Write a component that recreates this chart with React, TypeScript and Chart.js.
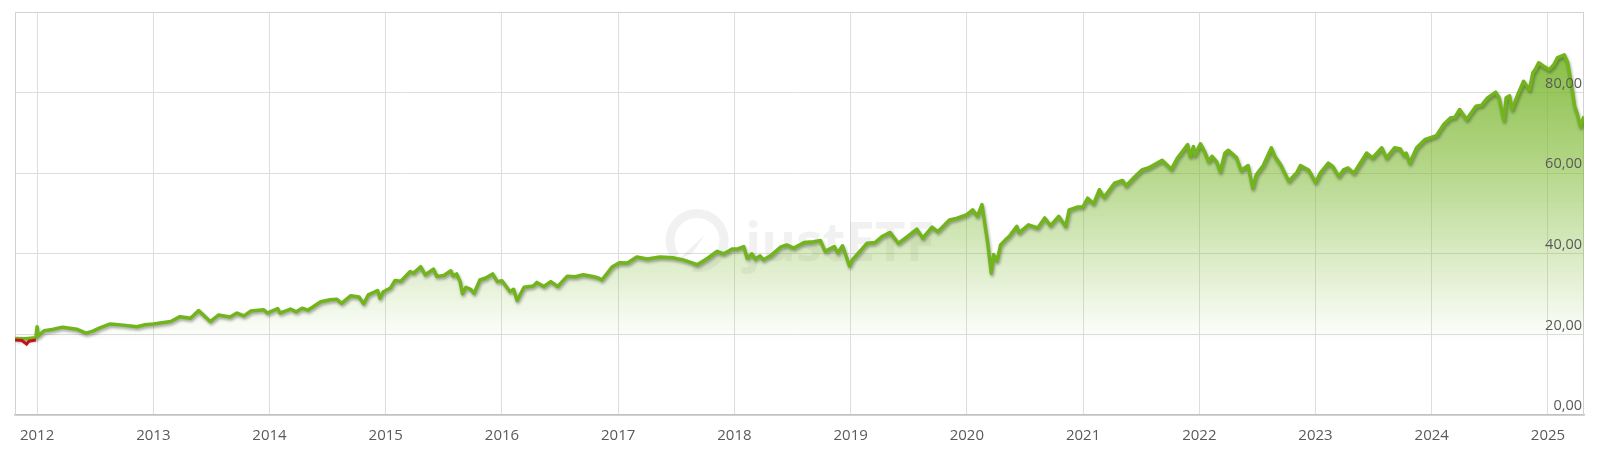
import React, { useEffect, useRef } from 'react';
import { Chart, registerables } from 'chart.js';

Chart.register(...registerables);

// Decimal years of the price points
const priceYears = [
  2011.81, 2011.90, 2011.99,
  2012.00, 2012.01, 2012.06, 2012.13, 2012.22, 2012.34, 2012.42, 2012.48, 2012.54, 2012.63, 2012.74, 2012.86, 2012.93,
  2013.00, 2013.15, 2013.23, 2013.32, 2013.39, 2013.49, 2013.56, 2013.66, 2013.72, 2013.78, 2013.84, 2013.95, 2013.98,
  2014.07, 2014.09, 2014.18, 2014.23, 2014.28, 2014.33, 2014.44, 2014.52, 2014.58, 2014.62, 2014.70, 2014.77, 2014.81, 2014.85, 2014.93, 2014.95, 2014.98,
  2015.04, 2015.08, 2015.13, 2015.21, 2015.24, 2015.30, 2015.34, 2015.41, 2015.44, 2015.50, 2015.56, 2015.58, 2015.61, 2015.64, 2015.66, 2015.69, 2015.73, 2015.76, 2015.81, 2015.86, 2015.92, 2015.96,
  2016.00, 2016.07, 2016.10, 2016.13, 2016.19, 2016.27, 2016.30, 2016.36, 2016.42, 2016.48, 2016.56, 2016.63, 2016.70, 2016.79, 2016.83, 2016.86, 2016.95,
  2017.01, 2017.08, 2017.16, 2017.25, 2017.36, 2017.47, 2017.56, 2017.68, 2017.77, 2017.85, 2017.91, 2017.98,
  2018.03, 2018.08, 2018.11, 2018.15, 2018.18, 2018.22, 2018.25, 2018.31, 2018.40, 2018.45, 2018.51, 2018.60, 2018.68, 2018.74, 2018.78, 2018.86, 2018.89, 2018.93, 2018.99,
  2019.02, 2019.14, 2019.21, 2019.27, 2019.34, 2019.41, 2019.49, 2019.57, 2019.62, 2019.70, 2019.75, 2019.85, 2019.91,
  2020.00, 2020.05, 2020.09, 2020.13, 2020.15, 2020.18, 2020.21, 2020.23, 2020.26, 2020.29, 2020.33, 2020.37, 2020.43, 2020.45, 2020.53, 2020.61, 2020.67, 2020.72, 2020.79, 2020.85, 2020.88, 2020.95,
  2021.00, 2021.04, 2021.09, 2021.14, 2021.18, 2021.27, 2021.34, 2021.37, 2021.44, 2021.51, 2021.56, 2021.60, 2021.68, 2021.76, 2021.81, 2021.90, 2021.92, 2021.95, 2021.96,
  2022.01, 2022.05, 2022.08, 2022.11, 2022.15, 2022.18, 2022.22, 2022.25, 2022.32, 2022.36, 2022.42, 2022.46, 2022.49, 2022.55, 2022.62, 2022.65, 2022.70, 2022.77, 2022.84, 2022.87, 2022.94,
  2023.00, 2023.04, 2023.11, 2023.15, 2023.20, 2023.24, 2023.28, 2023.33, 2023.44, 2023.49, 2023.57, 2023.61, 2023.68, 2023.73, 2023.76, 2023.78, 2023.81, 2023.87, 2023.94,
  2024.04, 2024.10, 2024.16, 2024.20, 2024.24, 2024.30, 2024.38, 2024.43, 2024.48, 2024.55, 2024.58, 2024.62, 2024.64, 2024.67, 2024.69, 2024.74, 2024.79, 2024.84, 2024.87, 2024.89, 2024.92, 2024.96,
  2025.01, 2025.05, 2025.08, 2025.14, 2025.17, 2025.20, 2025.23, 2025.25, 2025.28, 2025.31,
];

// Price values, same order as priceYears
const priceValues = [
  19.0, 18.9, 19.2,
  21.9, 19.6, 20.9, 21.2, 21.8, 21.3, 20.3, 20.8, 21.6, 22.6, 22.3, 21.9, 22.4,
  22.6, 23.2, 24.4, 24.0, 25.9, 23.2, 24.8, 24.3, 25.3, 24.6, 25.8, 26.1, 25.3,
  26.4, 25.3, 26.3, 25.6, 26.5, 26.0, 28.1, 28.6, 28.7, 27.7, 29.6, 29.3, 27.6, 29.8, 30.9, 29.0, 30.6,
  31.5, 33.4, 33.2, 35.6, 35.2, 36.8, 34.8, 36.2, 34.4, 34.6, 35.8, 34.5, 35.0, 33.1, 30.1, 31.7, 31.2, 30.2, 33.5, 34.0, 35.0, 33.1,
  33.3, 30.6, 31.2, 28.4, 31.7, 32.0, 32.9, 31.9, 33.1, 31.9, 34.4, 34.3, 34.8, 34.3, 34.0, 33.5, 36.8,
  37.8, 37.7, 39.2, 38.7, 39.2, 39.0, 38.5, 37.3, 38.9, 40.6, 40.0, 41.2,
  41.2, 41.8, 38.9, 40.0, 38.7, 39.5, 38.5, 39.5, 41.7, 42.2, 41.4, 42.8, 43.0, 43.3, 40.6, 41.8, 40.2, 42.0, 37.0,
  38.7, 42.6, 42.8, 44.3, 45.3, 42.6, 44.3, 46.1, 43.9, 46.6, 45.5, 48.4, 48.8,
  49.7, 50.9, 49.3, 52.2, 48.4, 42.6, 35.2, 39.8, 38.2, 42.2, 43.4, 44.5, 46.8, 45.2, 47.2, 46.4, 48.9, 47.0, 49.3, 46.8, 50.9, 51.6,
  51.7, 53.8, 52.4, 55.9, 54.0, 57.5, 58.2, 56.9, 59.0, 60.9, 61.3, 61.9, 63.2, 61.0, 63.7, 67.1, 64.2, 66.6, 64.4,
  67.3, 65.1, 62.9, 64.2, 62.8, 60.4, 65.0, 65.7, 63.9, 60.7, 61.9, 56.3, 59.6, 61.9, 66.3, 64.2, 62.1, 58.0, 60.2, 61.9, 60.8,
  57.7, 60.0, 62.5, 61.6, 59.2, 60.8, 61.3, 60.0, 65.0, 63.8, 66.3, 63.8, 66.3, 66.0, 64.5, 65.0, 62.5, 66.3, 68.3,
  69.3, 72.0, 73.7, 73.9, 75.8, 73.3, 76.6, 76.9, 78.7, 80.1, 78.7, 73.1, 78.7, 79.2, 75.8, 79.5, 82.8, 80.7, 84.9, 85.7, 87.4, 86.6,
  85.7, 86.9, 88.6, 89.4, 87.4, 82.4, 76.6, 75.0, 71.6, 74.1,
];

// Short red segment at the very start
const redYears = [2011.81, 2011.87, 2011.91, 2011.93, 2011.99];
const redValues = [18.6, 18.5, 17.6, 18.3, 18.6];

const yearTicks = [2012, 2013, 2014, 2015, 2016, 2017, 2018, 2019, 2020, 2021, 2022, 2023, 2024, 2025];
const valueTicks = [0, 20, 40, 60, 80, 100];
const xMin = 2011.81;
const xMax = 2025.31;

const FONT = "'Open Sans', 'DejaVu Sans', sans-serif";
const LINE_GREEN = '#72b41c';
const GRID = '#dedede';
const TEXT = '#5a5a5a';

export default function App() {
  const ref = useRef<HTMLCanvasElement | null>(null);

  useEffect(() => {
    document.body.style.margin = '0';
    const canvas = ref.current;
    if (!canvas) return;

    const pricePts = priceYears.map((x, i) => ({ x, y: priceValues[i] }));
    const redPts = redYears.map((x, i) => ({ x, y: redValues[i] }));

    const watermark = {
      id: 'watermark',
      beforeDatasetsDraw(chart: any) {
        const { ctx, chartArea } = chart;
        const w = chartArea.right - chartArea.left;
        const h = chartArea.bottom - chartArea.top;
        const cx = chartArea.left + w * 0.4347;
        const cy = chartArea.top + h * 0.567;
        ctx.save();
        ctx.strokeStyle = 'rgba(0,0,0,0.055)';
        ctx.fillStyle = 'rgba(0,0,0,0.055)';
        ctx.lineWidth = 9;
        ctx.beginPath();
        ctx.arc(cx, cy, 27, Math.PI * 0.8, Math.PI * 2.55);
        ctx.stroke();
        ctx.beginPath();
        ctx.moveTo(cx - 22, cy + 22);
        ctx.lineTo(cx + 8, cy - 6);
        ctx.lineTo(cx - 4, cy + 12);
        ctx.closePath();
        ctx.fill();
        ctx.font = `bold 53px ${FONT}`;
        ctx.textAlign = 'left';
        ctx.textBaseline = 'alphabetic';
        ctx.fillText('justETF', cx + 48, cy + 20);
        ctx.restore();
      },
    };

    const frame = {
      id: 'frame',
      beforeDatasetsDraw(chart: any) {
        const { ctx, chartArea } = chart;
        ctx.save();
        ctx.strokeStyle = '#d2d2d2';
        ctx.lineWidth = 1;
        ctx.beginPath();
        ctx.moveTo(chartArea.left + 0.5, chartArea.bottom);
        ctx.lineTo(chartArea.left + 0.5, chartArea.top + 0.5);
        ctx.lineTo(chartArea.right - 0.5, chartArea.top + 0.5);
        ctx.lineTo(chartArea.right - 0.5, chartArea.bottom);
        ctx.stroke();
        ctx.restore();
      },
    };

    const lineShadow = {
      id: 'lineShadow',
      beforeDatasetDraw(chart: any, args: any) {
        if (args.index === 1) {
          const ctx = chart.ctx;
          ctx.save();
          ctx.shadowColor = 'rgba(0,0,0,0.35)';
          ctx.shadowBlur = 3;
          ctx.shadowOffsetX = 1;
          ctx.shadowOffsetY = 2;
        }
      },
      afterDatasetDraw(chart: any, args: any) {
        if (args.index === 1) chart.ctx.restore();
      },
    };

    const yLabels = {
      id: 'yLabels',
      afterDatasetsDraw(chart: any) {
        const { ctx, chartArea, scales } = chart;
        ctx.save();
        ctx.font = `14.5px ${FONT}`;
        ctx.fillStyle = TEXT;
        ctx.textAlign = 'right';
        ctx.textBaseline = 'middle';
        valueTicks
          .filter((v) => v < 100)
          .forEach((v) => {
            ctx.fillText(v.toFixed(2).replace('.', ','), chartArea.right - 2, scales.y.getPixelForValue(v) - 9);
          });
        ctx.restore();
      },
    };

    const chart = new Chart(canvas, {
      type: 'line',
      data: {
        datasets: [
          {
            data: redPts,
            borderColor: '#c3161c',
            borderWidth: 3,
            pointRadius: 0,
            fill: false,
            tension: 0,
          },
          {
            data: pricePts,
            borderColor: LINE_GREEN,
            borderWidth: 3.5,
            pointRadius: 0,
            fill: false,
            tension: 0,
            borderJoinStyle: 'round',
          },
          {
            data: pricePts,
            borderWidth: 0,
            pointRadius: 0,
            fill: 'start',
            tension: 0,
            backgroundColor: (c: any) => {
              const ch = c.chart;
              const area = ch.chartArea;
              if (!area) return 'rgba(0,0,0,0)';
              const g = ch.ctx.createLinearGradient(0, area.top, 0, ch.scales.y.getPixelForValue(18));
              g.addColorStop(0, 'rgba(112,176,34,0.95)');
              g.addColorStop(0.45, 'rgba(125,185,50,0.6)');
              g.addColorStop(1, 'rgba(125,185,50,0)');
              return g;
            },
          },
        ],
      },
      options: {
        responsive: false,
        animation: false,
        parsing: false as any,
        normalized: true,
        layout: { padding: { left: 15, right: 16, top: 12, bottom: 0 } },
        plugins: {
          legend: { display: false },
          tooltip: { enabled: false },
        },
        scales: {
          x: {
            type: 'linear',
            min: xMin,
            max: xMax,
            afterBuildTicks: (s: any) => {
              s.ticks = yearTicks.map((v) => ({ value: v }));
            },
            afterFit: (s: any) => {
              s.height = 47;
            },
            grid: { color: GRID, drawTicks: false },
            border: { color: '#c2c2c2', width: 1.5 },
            ticks: {
              padding: 12,
              color: TEXT,
              font: { family: FONT, size: 15 },
              autoSkip: false,
              maxRotation: 0,
              callback: (v: any) => String(v),
            },
          },
          y: {
            type: 'linear',
            min: 0,
            max: 100,
            afterBuildTicks: (s: any) => {
              s.ticks = valueTicks.map((v) => ({ value: v }));
            },
            afterFit: (s: any) => {
              s.width = 0;
            },
            grid: { color: GRID, drawTicks: false },
            border: { display: false },
            ticks: { display: false },
          },
        },
      },
      plugins: [watermark, frame, lineShadow, yLabels],
    });

    return () => chart.destroy();
  }, []);

  return (
    <div style={{ width: 1600, height: 462 }}>
      <canvas ref={ref} width={1600} height={462} style={{ display: 'block' }} />
    </div>
  );
}
